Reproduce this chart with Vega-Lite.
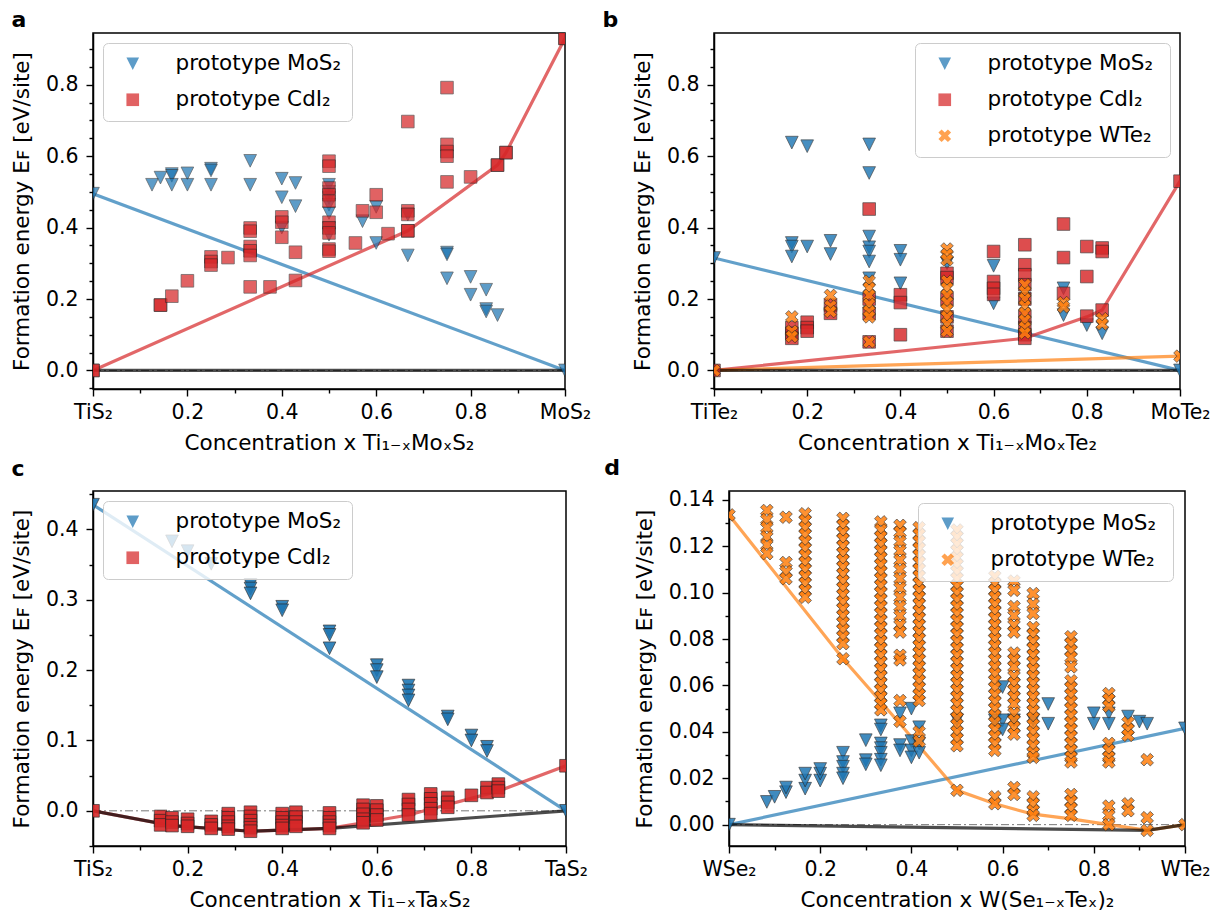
{
"$schema": "https://vega.github.io/schema/vega-lite/v6.json",
"padding": {"left": 10, "top": 8, "right": 5, "bottom": 5},
"background": "white",
"config": {
  "font": "DejaVu Sans",
  "view": {"stroke": "#000", "strokeWidth": 1.5},
  "axis": {"labelFontSize": 20.5, "titleFontSize": 21.5, "titleFontWeight": "normal", "labelColor": "#000", "titleColor": "#000", "tickColor": "#000", "domainColor": "#000", "tickWidth": 1.4, "domainWidth": 1.5, "tickSize": 7, "grid": false, "labelFlush": false, "labelOverlap": false},
  "legend": {"offset": 10, "padding": 10, "rowPadding": 13, "labelFontSize": 21.5, "labelLimit": 400, "labelColor": "#000", "symbolSize": 160, "symbolOffset": 9, "labelOffset": 32, "cornerRadius": 5, "strokeColor": "#cccccc", "fillColor": "rgba(255,255,255,0.8)", "symbolOpacity": 0.72, "symbolStrokeColor": "#222", "symbolStrokeWidth": 0.7, "title": null},
  "title": {"fontSize": 22, "fontWeight": "bold", "anchor": "start", "frame": "bounds", "baseline": "alphabetic", "color": "#000"}
},
"datasets": {
"ln": [
{"p":"a","s":"M","x":0,"y":0.495},{"p":"a","s":"M","x":1,"y":0},
{"p":"a","s":"C","x":0,"y":0},{"p":"a","s":"C","x":0.667,"y":0.391},{"p":"a","s":"C","x":0.857,"y":0.575},{"p":"a","s":"C","x":0.875,"y":0.61},{"p":"a","s":"C","x":1,"y":0.93},
{"p":"a","s":"K","x":0,"y":0},{"p":"a","s":"K","x":1,"y":0},
{"p":"b","s":"M","x":0,"y":0.315},{"p":"b","s":"M","x":1,"y":0},
{"p":"b","s":"C","x":0,"y":0},{"p":"b","s":"C","x":0.667,"y":0.09},{"p":"b","s":"C","x":0.8,"y":0.15},{"p":"b","s":"C","x":0.833,"y":0.169},{"p":"b","s":"C","x":1,"y":0.53},
{"p":"b","s":"W","x":0,"y":0},{"p":"b","s":"W","x":1,"y":0.04},
{"p":"b","s":"K","x":0,"y":0},{"p":"b","s":"K","x":1,"y":0},
{"p":"c","s":"M","x":0,"y":0.435},{"p":"c","s":"M","x":1,"y":0},
{"p":"c","s":"C","x":0,"y":0},{"p":"c","s":"C","x":0.167,"y":-0.021},{"p":"c","s":"C","x":0.333,"y":-0.029},{"p":"c","s":"C","x":0.5,"y":-0.025},{"p":"c","s":"C","x":0.571,"y":-0.017},{"p":"c","s":"C","x":0.667,"y":-0.006},{"p":"c","s":"C","x":0.857,"y":0.028},{"p":"c","s":"C","x":1,"y":0.064},
{"p":"c","s":"K","x":0,"y":0},{"p":"c","s":"K","x":0.167,"y":-0.021},{"p":"c","s":"K","x":0.333,"y":-0.029},{"p":"c","s":"K","x":0.5,"y":-0.025},{"p":"c","s":"K","x":1,"y":0},
{"p":"d","s":"M","x":0,"y":0},{"p":"d","s":"M","x":1,"y":0.0415},
{"p":"d","s":"W","x":0,"y":0.1335},{"p":"d","s":"W","x":0.25,"y":0.0715},{"p":"d","s":"W","x":0.375,"y":0.0435},{"p":"d","s":"W","x":0.5,"y":0.0148},{"p":"d","s":"W","x":0.583,"y":0.009},{"p":"d","s":"W","x":0.667,"y":0.0045},{"p":"d","s":"W","x":0.75,"y":0.0025},{"p":"d","s":"W","x":0.833,"y":0},{"p":"d","s":"W","x":0.917,"y":-0.0025},{"p":"d","s":"W","x":1,"y":0},
{"p":"d","s":"K","x":0,"y":0},{"p":"d","s":"K","x":0.917,"y":-0.0025},{"p":"d","s":"K","x":1,"y":0}
],
"pt": [
{"p":"a","t":"M","x":0,"y":0.495},{"p":"a","t":"M","x":0.125,"y":0.52},{"p":"a","t":"M","x":0.143,"y":0.54},{"p":"a","t":"M","x":0.167,"y":0.55},{"p":"a","t":"M","x":0.167,"y":0.545},{"p":"a","t":"M","x":0.167,"y":0.52},{"p":"a","t":"M","x":0.2,"y":0.552},{"p":"a","t":"M","x":0.2,"y":0.52},{"p":"a","t":"M","x":0.25,"y":0.565},{"p":"a","t":"M","x":0.25,"y":0.56},{"p":"a","t":"M","x":0.25,"y":0.52},{"p":"a","t":"M","x":0.333,"y":0.587},{"p":"a","t":"M","x":0.333,"y":0.52},{"p":"a","t":"M","x":0.4,"y":0.537},{"p":"a","t":"M","x":0.4,"y":0.485},{"p":"a","t":"M","x":0.4,"y":0.4},{"p":"a","t":"M","x":0.429,"y":0.525},{"p":"a","t":"M","x":0.429,"y":0.46},{"p":"a","t":"M","x":0.5,"y":0.52},{"p":"a","t":"M","x":0.5,"y":0.5},{"p":"a","t":"M","x":0.5,"y":0.483},{"p":"a","t":"M","x":0.5,"y":0.464},{"p":"a","t":"M","x":0.5,"y":0.441},{"p":"a","t":"M","x":0.5,"y":0.399},{"p":"a","t":"M","x":0.5,"y":0.38},{"p":"a","t":"M","x":0.571,"y":0.418},{"p":"a","t":"M","x":0.6,"y":0.458},{"p":"a","t":"M","x":0.6,"y":0.357},{"p":"a","t":"M","x":0.667,"y":0.437},{"p":"a","t":"M","x":0.667,"y":0.322},{"p":"a","t":"M","x":0.75,"y":0.33},{"p":"a","t":"M","x":0.75,"y":0.325},{"p":"a","t":"M","x":0.75,"y":0.258},{"p":"a","t":"M","x":0.8,"y":0.262},{"p":"a","t":"M","x":0.8,"y":0.212},{"p":"a","t":"M","x":0.833,"y":0.226},{"p":"a","t":"M","x":0.833,"y":0.172},{"p":"a","t":"M","x":0.833,"y":0.165},{"p":"a","t":"M","x":0.857,"y":0.155},{"p":"a","t":"M","x":1,"y":0},
{"p":"a","t":"C","x":0,"y":0},{"p":"a","t":"C","x":0,"y":0},{"p":"a","t":"C","x":0.143,"y":0.183},{"p":"a","t":"C","x":0.143,"y":0.183},{"p":"a","t":"C","x":0.167,"y":0.208},{"p":"a","t":"C","x":0.2,"y":0.251},{"p":"a","t":"C","x":0.25,"y":0.318},{"p":"a","t":"C","x":0.25,"y":0.305},{"p":"a","t":"C","x":0.25,"y":0.295},{"p":"a","t":"C","x":0.286,"y":0.316},{"p":"a","t":"C","x":0.333,"y":0.399},{"p":"a","t":"C","x":0.333,"y":0.39},{"p":"a","t":"C","x":0.333,"y":0.347},{"p":"a","t":"C","x":0.333,"y":0.335},{"p":"a","t":"C","x":0.333,"y":0.322},{"p":"a","t":"C","x":0.333,"y":0.234},{"p":"a","t":"C","x":0.375,"y":0.234},{"p":"a","t":"C","x":0.4,"y":0.43},{"p":"a","t":"C","x":0.4,"y":0.415},{"p":"a","t":"C","x":0.4,"y":0.373},{"p":"a","t":"C","x":0.429,"y":0.331},{"p":"a","t":"C","x":0.429,"y":0.252},{"p":"a","t":"C","x":0.5,"y":0.586},{"p":"a","t":"C","x":0.5,"y":0.572},{"p":"a","t":"C","x":0.5,"y":0.511},{"p":"a","t":"C","x":0.5,"y":0.492},{"p":"a","t":"C","x":0.5,"y":0.474},{"p":"a","t":"C","x":0.5,"y":0.415},{"p":"a","t":"C","x":0.5,"y":0.399},{"p":"a","t":"C","x":0.5,"y":0.385},{"p":"a","t":"C","x":0.5,"y":0.34},{"p":"a","t":"C","x":0.5,"y":0.334},{"p":"a","t":"C","x":0.556,"y":0.357},{"p":"a","t":"C","x":0.571,"y":0.447},{"p":"a","t":"C","x":0.6,"y":0.492},{"p":"a","t":"C","x":0.6,"y":0.443},{"p":"a","t":"C","x":0.625,"y":0.383},{"p":"a","t":"C","x":0.667,"y":0.697},{"p":"a","t":"C","x":0.667,"y":0.447},{"p":"a","t":"C","x":0.667,"y":0.437},{"p":"a","t":"C","x":0.667,"y":0.391},{"p":"a","t":"C","x":0.667,"y":0.391},{"p":"a","t":"C","x":0.75,"y":0.792},{"p":"a","t":"C","x":0.75,"y":0.633},{"p":"a","t":"C","x":0.75,"y":0.613},{"p":"a","t":"C","x":0.75,"y":0.6},{"p":"a","t":"C","x":0.75,"y":0.528},{"p":"a","t":"C","x":0.8,"y":0.542},{"p":"a","t":"C","x":0.857,"y":0.575},{"p":"a","t":"C","x":0.857,"y":0.575},{"p":"a","t":"C","x":0.875,"y":0.61},{"p":"a","t":"C","x":0.875,"y":0.61},{"p":"a","t":"C","x":1,"y":0.93},{"p":"a","t":"C","x":1,"y":0.93},
{"p":"b","t":"M","x":0,"y":0.315},{"p":"b","t":"M","x":0.167,"y":0.638},{"p":"b","t":"M","x":0.2,"y":0.628},{"p":"b","t":"M","x":0.167,"y":0.357},{"p":"b","t":"M","x":0.167,"y":0.347},{"p":"b","t":"M","x":0.167,"y":0.319},{"p":"b","t":"M","x":0.2,"y":0.347},{"p":"b","t":"M","x":0.25,"y":0.363},{"p":"b","t":"M","x":0.25,"y":0.326},{"p":"b","t":"M","x":0.333,"y":0.633},{"p":"b","t":"M","x":0.333,"y":0.553},{"p":"b","t":"M","x":0.333,"y":0.375},{"p":"b","t":"M","x":0.333,"y":0.345},{"p":"b","t":"M","x":0.333,"y":0.333},{"p":"b","t":"M","x":0.333,"y":0.305},{"p":"b","t":"M","x":0.333,"y":0.258},{"p":"b","t":"M","x":0.4,"y":0.335},{"p":"b","t":"M","x":0.4,"y":0.31},{"p":"b","t":"M","x":0.4,"y":0.244},{"p":"b","t":"M","x":0.5,"y":0.3},{"p":"b","t":"M","x":0.6,"y":0.293},{"p":"b","t":"M","x":0.6,"y":0.188},{"p":"b","t":"M","x":0.667,"y":0.2},{"p":"b","t":"M","x":0.75,"y":0.23},{"p":"b","t":"M","x":0.75,"y":0.155},{"p":"b","t":"M","x":0.8,"y":0.127},{"p":"b","t":"M","x":0.833,"y":0.104},{"p":"b","t":"M","x":1,"y":0},
{"p":"b","t":"C","x":0,"y":0},{"p":"b","t":"C","x":0.167,"y":0.12},{"p":"b","t":"C","x":0.167,"y":0.104},{"p":"b","t":"C","x":0.167,"y":0.09},{"p":"b","t":"C","x":0.2,"y":0.135},{"p":"b","t":"C","x":0.2,"y":0.12},{"p":"b","t":"C","x":0.2,"y":0.11},{"p":"b","t":"C","x":0.25,"y":0.183},{"p":"b","t":"C","x":0.25,"y":0.16},{"p":"b","t":"C","x":0.333,"y":0.452},{"p":"b","t":"C","x":0.333,"y":0.2},{"p":"b","t":"C","x":0.333,"y":0.16},{"p":"b","t":"C","x":0.333,"y":0.08},{"p":"b","t":"C","x":0.4,"y":0.212},{"p":"b","t":"C","x":0.4,"y":0.19},{"p":"b","t":"C","x":0.4,"y":0.1},{"p":"b","t":"C","x":0.5,"y":0.272},{"p":"b","t":"C","x":0.5,"y":0.26},{"p":"b","t":"C","x":0.5,"y":0.2},{"p":"b","t":"C","x":0.5,"y":0.15},{"p":"b","t":"C","x":0.5,"y":0.11},{"p":"b","t":"C","x":0.6,"y":0.333},{"p":"b","t":"C","x":0.6,"y":0.249},{"p":"b","t":"C","x":0.6,"y":0.23},{"p":"b","t":"C","x":0.6,"y":0.213},{"p":"b","t":"C","x":0.667,"y":0.352},{"p":"b","t":"C","x":0.667,"y":0.296},{"p":"b","t":"C","x":0.667,"y":0.268},{"p":"b","t":"C","x":0.667,"y":0.24},{"p":"b","t":"C","x":0.667,"y":0.2},{"p":"b","t":"C","x":0.667,"y":0.15},{"p":"b","t":"C","x":0.667,"y":0.12},{"p":"b","t":"C","x":0.667,"y":0.1},{"p":"b","t":"C","x":0.667,"y":0.09},{"p":"b","t":"C","x":0.75,"y":0.41},{"p":"b","t":"C","x":0.75,"y":0.316},{"p":"b","t":"C","x":0.75,"y":0.216},{"p":"b","t":"C","x":0.8,"y":0.347},{"p":"b","t":"C","x":0.8,"y":0.263},{"p":"b","t":"C","x":0.8,"y":0.152},{"p":"b","t":"C","x":0.833,"y":0.343},{"p":"b","t":"C","x":0.833,"y":0.333},{"p":"b","t":"C","x":0.833,"y":0.169},{"p":"b","t":"C","x":1,"y":0.53},
{"p":"b","t":"W","x":0,"y":0},{"p":"b","t":"W","x":0.167,"y":0.15},{"p":"b","t":"W","x":0.167,"y":0.11},{"p":"b","t":"W","x":0.167,"y":0.095},{"p":"b","t":"W","x":0.25,"y":0.21},{"p":"b","t":"W","x":0.25,"y":0.18},{"p":"b","t":"W","x":0.25,"y":0.165},{"p":"b","t":"W","x":0.333,"y":0.25},{"p":"b","t":"W","x":0.333,"y":0.23},{"p":"b","t":"W","x":0.333,"y":0.21},{"p":"b","t":"W","x":0.333,"y":0.185},{"p":"b","t":"W","x":0.333,"y":0.165},{"p":"b","t":"W","x":0.333,"y":0.15},{"p":"b","t":"W","x":0.333,"y":0.08},{"p":"b","t":"W","x":0.5,"y":0.34},{"p":"b","t":"W","x":0.5,"y":0.325},{"p":"b","t":"W","x":0.5,"y":0.31},{"p":"b","t":"W","x":0.5,"y":0.25},{"p":"b","t":"W","x":0.5,"y":0.23},{"p":"b","t":"W","x":0.5,"y":0.21},{"p":"b","t":"W","x":0.5,"y":0.19},{"p":"b","t":"W","x":0.5,"y":0.17},{"p":"b","t":"W","x":0.5,"y":0.15},{"p":"b","t":"W","x":0.5,"y":0.13},{"p":"b","t":"W","x":0.5,"y":0.11},{"p":"b","t":"W","x":0.667,"y":0.24},{"p":"b","t":"W","x":0.667,"y":0.22},{"p":"b","t":"W","x":0.667,"y":0.2},{"p":"b","t":"W","x":0.667,"y":0.18},{"p":"b","t":"W","x":0.667,"y":0.16},{"p":"b","t":"W","x":0.667,"y":0.14},{"p":"b","t":"W","x":0.667,"y":0.12},{"p":"b","t":"W","x":0.667,"y":0.105},{"p":"b","t":"W","x":0.75,"y":0.19},{"p":"b","t":"W","x":0.75,"y":0.178},{"p":"b","t":"W","x":0.833,"y":0.145},{"p":"b","t":"W","x":0.833,"y":0.13},{"p":"b","t":"W","x":1,"y":0.04},
{"p":"c","t":"M","x":0,"y":0.435},{"p":"c","t":"M","x":0.167,"y":0.383},{"p":"c","t":"M","x":0.2,"y":0.369},{"p":"c","t":"M","x":0.25,"y":0.351},{"p":"c","t":"M","x":0.333,"y":0.321},{"p":"c","t":"M","x":0.333,"y":0.316},{"p":"c","t":"M","x":0.333,"y":0.309},{"p":"c","t":"M","x":0.4,"y":0.29},{"p":"c","t":"M","x":0.4,"y":0.285},{"p":"c","t":"M","x":0.5,"y":0.255},{"p":"c","t":"M","x":0.5,"y":0.25},{"p":"c","t":"M","x":0.5,"y":0.231},{"p":"c","t":"M","x":0.6,"y":0.207},{"p":"c","t":"M","x":0.6,"y":0.2},{"p":"c","t":"M","x":0.6,"y":0.19},{"p":"c","t":"M","x":0.667,"y":0.178},{"p":"c","t":"M","x":0.667,"y":0.171},{"p":"c","t":"M","x":0.667,"y":0.164},{"p":"c","t":"M","x":0.667,"y":0.157},{"p":"c","t":"M","x":0.75,"y":0.134},{"p":"c","t":"M","x":0.75,"y":0.13},{"p":"c","t":"M","x":0.8,"y":0.107},{"p":"c","t":"M","x":0.8,"y":0.1},{"p":"c","t":"M","x":0.833,"y":0.091},{"p":"c","t":"M","x":0.833,"y":0.085},{"p":"c","t":"M","x":1,"y":0},
{"p":"c","t":"C","x":0,"y":0},{"p":"c","t":"C","x":0.143,"y":-0.008},{"p":"c","t":"C","x":0.143,"y":-0.014},{"p":"c","t":"C","x":0.143,"y":-0.02},{"p":"c","t":"C","x":0.167,"y":-0.01},{"p":"c","t":"C","x":0.167,"y":-0.016},{"p":"c","t":"C","x":0.167,"y":-0.021},{"p":"c","t":"C","x":0.2,"y":-0.012},{"p":"c","t":"C","x":0.2,"y":-0.018},{"p":"c","t":"C","x":0.2,"y":-0.022},{"p":"c","t":"C","x":0.25,"y":-0.015},{"p":"c","t":"C","x":0.25,"y":-0.02},{"p":"c","t":"C","x":0.25,"y":-0.025},{"p":"c","t":"C","x":0.286,"y":-0.004},{"p":"c","t":"C","x":0.286,"y":-0.01},{"p":"c","t":"C","x":0.286,"y":-0.016},{"p":"c","t":"C","x":0.286,"y":-0.022},{"p":"c","t":"C","x":0.286,"y":-0.026},{"p":"c","t":"C","x":0.333,"y":-0.002},{"p":"c","t":"C","x":0.333,"y":-0.008},{"p":"c","t":"C","x":0.333,"y":-0.014},{"p":"c","t":"C","x":0.333,"y":-0.02},{"p":"c","t":"C","x":0.333,"y":-0.024},{"p":"c","t":"C","x":0.333,"y":-0.029},{"p":"c","t":"C","x":0.4,"y":-0.004},{"p":"c","t":"C","x":0.4,"y":-0.01},{"p":"c","t":"C","x":0.4,"y":-0.016},{"p":"c","t":"C","x":0.4,"y":-0.021},{"p":"c","t":"C","x":0.4,"y":-0.025},{"p":"c","t":"C","x":0.429,"y":-0.002},{"p":"c","t":"C","x":0.429,"y":-0.009},{"p":"c","t":"C","x":0.429,"y":-0.016},{"p":"c","t":"C","x":0.429,"y":-0.022},{"p":"c","t":"C","x":0.5,"y":-0.003},{"p":"c","t":"C","x":0.5,"y":-0.01},{"p":"c","t":"C","x":0.5,"y":-0.016},{"p":"c","t":"C","x":0.5,"y":-0.021},{"p":"c","t":"C","x":0.5,"y":-0.025},{"p":"c","t":"C","x":0.571,"y":0.008},{"p":"c","t":"C","x":0.571,"y":0.002},{"p":"c","t":"C","x":0.571,"y":-0.005},{"p":"c","t":"C","x":0.571,"y":-0.012},{"p":"c","t":"C","x":0.571,"y":-0.017},{"p":"c","t":"C","x":0.6,"y":0.007},{"p":"c","t":"C","x":0.6,"y":0.001},{"p":"c","t":"C","x":0.6,"y":-0.006},{"p":"c","t":"C","x":0.6,"y":-0.013},{"p":"c","t":"C","x":0.667,"y":0.016},{"p":"c","t":"C","x":0.667,"y":0.009},{"p":"c","t":"C","x":0.667,"y":0.002},{"p":"c","t":"C","x":0.667,"y":-0.006},{"p":"c","t":"C","x":0.714,"y":0.024},{"p":"c","t":"C","x":0.714,"y":0.017},{"p":"c","t":"C","x":0.714,"y":0.01},{"p":"c","t":"C","x":0.714,"y":0.003},{"p":"c","t":"C","x":0.714,"y":-0.004},{"p":"c","t":"C","x":0.75,"y":0.019},{"p":"c","t":"C","x":0.75,"y":0.012},{"p":"c","t":"C","x":0.75,"y":0.005},{"p":"c","t":"C","x":0.8,"y":0.022},{"p":"c","t":"C","x":0.833,"y":0.033},{"p":"c","t":"C","x":0.833,"y":0.026},{"p":"c","t":"C","x":0.857,"y":0.038},{"p":"c","t":"C","x":0.857,"y":0.033},{"p":"c","t":"C","x":0.857,"y":0.028},{"p":"c","t":"C","x":1,"y":0.064},
{"p":"d","t":"M","x":0,"y":0},{"p":"d","t":"M","x":0.083,"y":0.0098},{"p":"d","t":"M","x":0.1,"y":0.012},{"p":"d","t":"M","x":0.125,"y":0.014},{"p":"d","t":"M","x":0.125,"y":0.016},{"p":"d","t":"M","x":0.167,"y":0.0155},{"p":"d","t":"M","x":0.167,"y":0.019},{"p":"d","t":"M","x":0.167,"y":0.022},{"p":"d","t":"M","x":0.2,"y":0.019},{"p":"d","t":"M","x":0.2,"y":0.022},{"p":"d","t":"M","x":0.2,"y":0.024},{"p":"d","t":"M","x":0.25,"y":0.031},{"p":"d","t":"M","x":0.25,"y":0.027},{"p":"d","t":"M","x":0.25,"y":0.025},{"p":"d","t":"M","x":0.25,"y":0.022},{"p":"d","t":"M","x":0.25,"y":0.02},{"p":"d","t":"M","x":0.3,"y":0.0364},{"p":"d","t":"M","x":0.3,"y":0.0278},{"p":"d","t":"M","x":0.3,"y":0.026},{"p":"d","t":"M","x":0.333,"y":0.0428},{"p":"d","t":"M","x":0.333,"y":0.041},{"p":"d","t":"M","x":0.333,"y":0.035},{"p":"d","t":"M","x":0.333,"y":0.033},{"p":"d","t":"M","x":0.333,"y":0.031},{"p":"d","t":"M","x":0.333,"y":0.028},{"p":"d","t":"M","x":0.333,"y":0.0256},{"p":"d","t":"M","x":0.375,"y":0.048},{"p":"d","t":"M","x":0.375,"y":0.0343},{"p":"d","t":"M","x":0.375,"y":0.032},{"p":"d","t":"M","x":0.4,"y":0.05},{"p":"d","t":"M","x":0.4,"y":0.036},{"p":"d","t":"M","x":0.4,"y":0.032},{"p":"d","t":"M","x":0.4,"y":0.029},{"p":"d","t":"M","x":0.417,"y":0.042},{"p":"d","t":"M","x":0.417,"y":0.035},{"p":"d","t":"M","x":0.417,"y":0.031},{"p":"d","t":"M","x":0.5,"y":0.045},{"p":"d","t":"M","x":0.583,"y":0.045},{"p":"d","t":"M","x":0.6,"y":0.0593},{"p":"d","t":"M","x":0.6,"y":0.045},{"p":"d","t":"M","x":0.6,"y":0.041},{"p":"d","t":"M","x":0.625,"y":0.045},{"p":"d","t":"M","x":0.667,"y":0.045},{"p":"d","t":"M","x":0.7,"y":0.052},{"p":"d","t":"M","x":0.7,"y":0.0435},{"p":"d","t":"M","x":0.8,"y":0.048},{"p":"d","t":"M","x":0.8,"y":0.0435},{"p":"d","t":"M","x":0.833,"y":0.048},{"p":"d","t":"M","x":0.833,"y":0.0435},{"p":"d","t":"M","x":0.875,"y":0.0466},{"p":"d","t":"M","x":0.9,"y":0.0444},{"p":"d","t":"M","x":0.917,"y":0.0435},{"p":"d","t":"M","x":1,"y":0.0415},
{"p":"d","t":"W","x":0,"y":0.1335},
{"p":"d","t":"W","x":0.083,"y":0.1354},{"p":"d","t":"W","x":0.083,"y":0.1315},{"p":"d","t":"W","x":0.083,"y":0.128},{"p":"d","t":"W","x":0.083,"y":0.124},{"p":"d","t":"W","x":0.083,"y":0.1205},{"p":"d","t":"W","x":0.083,"y":0.1168},
{"p":"d","t":"W","x":0.125,"y":0.1325},{"p":"d","t":"W","x":0.125,"y":0.113},{"p":"d","t":"W","x":0.125,"y":0.109},{"p":"d","t":"W","x":0.125,"y":0.106},
{"p":"d","t":"W","x":0.167,"y":0.134},{"p":"d","t":"W","x":0.167,"y":0.131},{"p":"d","t":"W","x":0.167,"y":0.128},{"p":"d","t":"W","x":0.167,"y":0.125},{"p":"d","t":"W","x":0.167,"y":0.122},{"p":"d","t":"W","x":0.167,"y":0.119},{"p":"d","t":"W","x":0.167,"y":0.116},{"p":"d","t":"W","x":0.167,"y":0.113},{"p":"d","t":"W","x":0.167,"y":0.11},{"p":"d","t":"W","x":0.167,"y":0.107},{"p":"d","t":"W","x":0.167,"y":0.104},{"p":"d","t":"W","x":0.167,"y":0.101},{"p":"d","t":"W","x":0.167,"y":0.098},
{"p":"d","t":"W","x":0.25,"y":0.132},{"p":"d","t":"W","x":0.25,"y":0.129},{"p":"d","t":"W","x":0.25,"y":0.126},{"p":"d","t":"W","x":0.25,"y":0.123},{"p":"d","t":"W","x":0.25,"y":0.12},{"p":"d","t":"W","x":0.25,"y":0.117},{"p":"d","t":"W","x":0.25,"y":0.114},{"p":"d","t":"W","x":0.25,"y":0.111},{"p":"d","t":"W","x":0.25,"y":0.108},{"p":"d","t":"W","x":0.25,"y":0.105},{"p":"d","t":"W","x":0.25,"y":0.102},{"p":"d","t":"W","x":0.25,"y":0.099},{"p":"d","t":"W","x":0.25,"y":0.096},{"p":"d","t":"W","x":0.25,"y":0.093},{"p":"d","t":"W","x":0.25,"y":0.09},{"p":"d","t":"W","x":0.25,"y":0.087},{"p":"d","t":"W","x":0.25,"y":0.084},{"p":"d","t":"W","x":0.25,"y":0.081},{"p":"d","t":"W","x":0.25,"y":0.078},{"p":"d","t":"W","x":0.25,"y":0.0715},
{"p":"d","t":"W","x":0.333,"y":0.1305},{"p":"d","t":"W","x":0.333,"y":0.127},{"p":"d","t":"W","x":0.333,"y":0.124},{"p":"d","t":"W","x":0.333,"y":0.121},{"p":"d","t":"W","x":0.333,"y":0.118},{"p":"d","t":"W","x":0.333,"y":0.115},{"p":"d","t":"W","x":0.333,"y":0.112},{"p":"d","t":"W","x":0.333,"y":0.109},{"p":"d","t":"W","x":0.333,"y":0.106},{"p":"d","t":"W","x":0.333,"y":0.103},{"p":"d","t":"W","x":0.333,"y":0.1},{"p":"d","t":"W","x":0.333,"y":0.097},{"p":"d","t":"W","x":0.333,"y":0.094},{"p":"d","t":"W","x":0.333,"y":0.091},{"p":"d","t":"W","x":0.333,"y":0.088},{"p":"d","t":"W","x":0.333,"y":0.085},{"p":"d","t":"W","x":0.333,"y":0.082},{"p":"d","t":"W","x":0.333,"y":0.079},{"p":"d","t":"W","x":0.333,"y":0.076},{"p":"d","t":"W","x":0.333,"y":0.073},{"p":"d","t":"W","x":0.333,"y":0.07},{"p":"d","t":"W","x":0.333,"y":0.067},{"p":"d","t":"W","x":0.333,"y":0.064},{"p":"d","t":"W","x":0.333,"y":0.061},{"p":"d","t":"W","x":0.333,"y":0.058},{"p":"d","t":"W","x":0.333,"y":0.055},{"p":"d","t":"W","x":0.333,"y":0.052},{"p":"d","t":"W","x":0.333,"y":0.0495},
{"p":"d","t":"W","x":0.375,"y":0.129},{"p":"d","t":"W","x":0.375,"y":0.126},{"p":"d","t":"W","x":0.375,"y":0.122},{"p":"d","t":"W","x":0.375,"y":0.118},{"p":"d","t":"W","x":0.375,"y":0.114},{"p":"d","t":"W","x":0.375,"y":0.11},{"p":"d","t":"W","x":0.375,"y":0.106},{"p":"d","t":"W","x":0.375,"y":0.102},{"p":"d","t":"W","x":0.375,"y":0.098},{"p":"d","t":"W","x":0.375,"y":0.094},{"p":"d","t":"W","x":0.375,"y":0.09},{"p":"d","t":"W","x":0.375,"y":0.086},{"p":"d","t":"W","x":0.375,"y":0.083},{"p":"d","t":"W","x":0.375,"y":0.073},{"p":"d","t":"W","x":0.375,"y":0.071},{"p":"d","t":"W","x":0.375,"y":0.0535},{"p":"d","t":"W","x":0.375,"y":0.0445},
{"p":"d","t":"W","x":0.417,"y":0.128},{"p":"d","t":"W","x":0.417,"y":0.125},{"p":"d","t":"W","x":0.417,"y":0.122},{"p":"d","t":"W","x":0.417,"y":0.119},{"p":"d","t":"W","x":0.417,"y":0.116},{"p":"d","t":"W","x":0.417,"y":0.113},{"p":"d","t":"W","x":0.417,"y":0.11},{"p":"d","t":"W","x":0.417,"y":0.107},{"p":"d","t":"W","x":0.417,"y":0.104},{"p":"d","t":"W","x":0.417,"y":0.101},{"p":"d","t":"W","x":0.417,"y":0.098},{"p":"d","t":"W","x":0.417,"y":0.095},{"p":"d","t":"W","x":0.417,"y":0.092},{"p":"d","t":"W","x":0.417,"y":0.089},{"p":"d","t":"W","x":0.417,"y":0.086},{"p":"d","t":"W","x":0.417,"y":0.083},{"p":"d","t":"W","x":0.417,"y":0.08},{"p":"d","t":"W","x":0.417,"y":0.077},{"p":"d","t":"W","x":0.417,"y":0.074},{"p":"d","t":"W","x":0.417,"y":0.071},{"p":"d","t":"W","x":0.417,"y":0.068},{"p":"d","t":"W","x":0.417,"y":0.065},{"p":"d","t":"W","x":0.417,"y":0.062},{"p":"d","t":"W","x":0.417,"y":0.059},{"p":"d","t":"W","x":0.417,"y":0.056},{"p":"d","t":"W","x":0.417,"y":0.0535},{"p":"d","t":"W","x":0.417,"y":0.04},{"p":"d","t":"W","x":0.417,"y":0.036},
{"p":"d","t":"W","x":0.5,"y":0.127},{"p":"d","t":"W","x":0.5,"y":0.124},{"p":"d","t":"W","x":0.5,"y":0.121},{"p":"d","t":"W","x":0.5,"y":0.118},{"p":"d","t":"W","x":0.5,"y":0.115},{"p":"d","t":"W","x":0.5,"y":0.112},{"p":"d","t":"W","x":0.5,"y":0.109},{"p":"d","t":"W","x":0.5,"y":0.106},{"p":"d","t":"W","x":0.5,"y":0.103},{"p":"d","t":"W","x":0.5,"y":0.1},{"p":"d","t":"W","x":0.5,"y":0.097},{"p":"d","t":"W","x":0.5,"y":0.094},{"p":"d","t":"W","x":0.5,"y":0.091},{"p":"d","t":"W","x":0.5,"y":0.088},{"p":"d","t":"W","x":0.5,"y":0.085},{"p":"d","t":"W","x":0.5,"y":0.082},{"p":"d","t":"W","x":0.5,"y":0.079},{"p":"d","t":"W","x":0.5,"y":0.076},{"p":"d","t":"W","x":0.5,"y":0.073},{"p":"d","t":"W","x":0.5,"y":0.07},{"p":"d","t":"W","x":0.5,"y":0.067},{"p":"d","t":"W","x":0.5,"y":0.064},{"p":"d","t":"W","x":0.5,"y":0.061},{"p":"d","t":"W","x":0.5,"y":0.058},{"p":"d","t":"W","x":0.5,"y":0.055},{"p":"d","t":"W","x":0.5,"y":0.052},{"p":"d","t":"W","x":0.5,"y":0.049},{"p":"d","t":"W","x":0.5,"y":0.046},{"p":"d","t":"W","x":0.5,"y":0.043},{"p":"d","t":"W","x":0.5,"y":0.04},{"p":"d","t":"W","x":0.5,"y":0.037},{"p":"d","t":"W","x":0.5,"y":0.034},{"p":"d","t":"W","x":0.5,"y":0.0148},
{"p":"d","t":"W","x":0.583,"y":0.107},{"p":"d","t":"W","x":0.583,"y":0.104},{"p":"d","t":"W","x":0.583,"y":0.101},{"p":"d","t":"W","x":0.583,"y":0.098},{"p":"d","t":"W","x":0.583,"y":0.095},{"p":"d","t":"W","x":0.583,"y":0.092},{"p":"d","t":"W","x":0.583,"y":0.089},{"p":"d","t":"W","x":0.583,"y":0.086},{"p":"d","t":"W","x":0.583,"y":0.083},{"p":"d","t":"W","x":0.583,"y":0.08},{"p":"d","t":"W","x":0.583,"y":0.077},{"p":"d","t":"W","x":0.583,"y":0.074},{"p":"d","t":"W","x":0.583,"y":0.071},{"p":"d","t":"W","x":0.583,"y":0.068},{"p":"d","t":"W","x":0.583,"y":0.065},{"p":"d","t":"W","x":0.583,"y":0.062},{"p":"d","t":"W","x":0.583,"y":0.059},{"p":"d","t":"W","x":0.583,"y":0.056},{"p":"d","t":"W","x":0.583,"y":0.053},{"p":"d","t":"W","x":0.583,"y":0.05},{"p":"d","t":"W","x":0.583,"y":0.047},{"p":"d","t":"W","x":0.583,"y":0.044},{"p":"d","t":"W","x":0.583,"y":0.041},{"p":"d","t":"W","x":0.583,"y":0.038},{"p":"d","t":"W","x":0.583,"y":0.035},{"p":"d","t":"W","x":0.583,"y":0.032},{"p":"d","t":"W","x":0.583,"y":0.012},{"p":"d","t":"W","x":0.583,"y":0.009},
{"p":"d","t":"W","x":0.625,"y":0.105},{"p":"d","t":"W","x":0.625,"y":0.101},{"p":"d","t":"W","x":0.625,"y":0.094},{"p":"d","t":"W","x":0.625,"y":0.09},{"p":"d","t":"W","x":0.625,"y":0.086},{"p":"d","t":"W","x":0.625,"y":0.083},{"p":"d","t":"W","x":0.625,"y":0.074},{"p":"d","t":"W","x":0.625,"y":0.071},{"p":"d","t":"W","x":0.625,"y":0.068},{"p":"d","t":"W","x":0.625,"y":0.064},{"p":"d","t":"W","x":0.625,"y":0.061},{"p":"d","t":"W","x":0.625,"y":0.058},{"p":"d","t":"W","x":0.625,"y":0.055},{"p":"d","t":"W","x":0.625,"y":0.052},{"p":"d","t":"W","x":0.625,"y":0.048},{"p":"d","t":"W","x":0.625,"y":0.045},{"p":"d","t":"W","x":0.625,"y":0.042},{"p":"d","t":"W","x":0.625,"y":0.039},{"p":"d","t":"W","x":0.625,"y":0.016},{"p":"d","t":"W","x":0.625,"y":0.013},
{"p":"d","t":"W","x":0.667,"y":0.0996},{"p":"d","t":"W","x":0.667,"y":0.095},{"p":"d","t":"W","x":0.667,"y":0.091},{"p":"d","t":"W","x":0.667,"y":0.085},{"p":"d","t":"W","x":0.667,"y":0.082},{"p":"d","t":"W","x":0.667,"y":0.079},{"p":"d","t":"W","x":0.667,"y":0.076},{"p":"d","t":"W","x":0.667,"y":0.073},{"p":"d","t":"W","x":0.667,"y":0.07},{"p":"d","t":"W","x":0.667,"y":0.067},{"p":"d","t":"W","x":0.667,"y":0.064},{"p":"d","t":"W","x":0.667,"y":0.061},{"p":"d","t":"W","x":0.667,"y":0.058},{"p":"d","t":"W","x":0.667,"y":0.055},{"p":"d","t":"W","x":0.667,"y":0.052},{"p":"d","t":"W","x":0.667,"y":0.049},{"p":"d","t":"W","x":0.667,"y":0.046},{"p":"d","t":"W","x":0.667,"y":0.043},{"p":"d","t":"W","x":0.667,"y":0.04},{"p":"d","t":"W","x":0.667,"y":0.037},{"p":"d","t":"W","x":0.667,"y":0.034},{"p":"d","t":"W","x":0.667,"y":0.031},{"p":"d","t":"W","x":0.667,"y":0.029},{"p":"d","t":"W","x":0.667,"y":0.012},{"p":"d","t":"W","x":0.667,"y":0.009},{"p":"d","t":"W","x":0.667,"y":0.006},{"p":"d","t":"W","x":0.667,"y":0.004},
{"p":"d","t":"W","x":0.75,"y":0.081},{"p":"d","t":"W","x":0.75,"y":0.078},{"p":"d","t":"W","x":0.75,"y":0.075},{"p":"d","t":"W","x":0.75,"y":0.072},{"p":"d","t":"W","x":0.75,"y":0.068},{"p":"d","t":"W","x":0.75,"y":0.062},{"p":"d","t":"W","x":0.75,"y":0.059},{"p":"d","t":"W","x":0.75,"y":0.056},{"p":"d","t":"W","x":0.75,"y":0.053},{"p":"d","t":"W","x":0.75,"y":0.05},{"p":"d","t":"W","x":0.75,"y":0.047},{"p":"d","t":"W","x":0.75,"y":0.044},{"p":"d","t":"W","x":0.75,"y":0.041},{"p":"d","t":"W","x":0.75,"y":0.038},{"p":"d","t":"W","x":0.75,"y":0.035},{"p":"d","t":"W","x":0.75,"y":0.032},{"p":"d","t":"W","x":0.75,"y":0.029},{"p":"d","t":"W","x":0.75,"y":0.027},{"p":"d","t":"W","x":0.75,"y":0.013},{"p":"d","t":"W","x":0.75,"y":0.01},{"p":"d","t":"W","x":0.75,"y":0.007},{"p":"d","t":"W","x":0.75,"y":0.004},
{"p":"d","t":"W","x":0.833,"y":0.0565},{"p":"d","t":"W","x":0.833,"y":0.054},{"p":"d","t":"W","x":0.833,"y":0.051},{"p":"d","t":"W","x":0.833,"y":0.035},{"p":"d","t":"W","x":0.833,"y":0.032},{"p":"d","t":"W","x":0.833,"y":0.029},{"p":"d","t":"W","x":0.833,"y":0.027},{"p":"d","t":"W","x":0.833,"y":0.008},{"p":"d","t":"W","x":0.833,"y":0.004},{"p":"d","t":"W","x":0.833,"y":0},
{"p":"d","t":"W","x":0.875,"y":0.044},{"p":"d","t":"W","x":0.875,"y":0.041},{"p":"d","t":"W","x":0.875,"y":0.0385},{"p":"d","t":"W","x":0.875,"y":0.009},{"p":"d","t":"W","x":0.875,"y":0.006},
{"p":"d","t":"W","x":0.917,"y":0.028},{"p":"d","t":"W","x":0.917,"y":0.003},{"p":"d","t":"W","x":0.917,"y":-0.0025},
{"p":"d","t":"W","x":1,"y":0}
]
},
"bounds": "full",
"spacing": 1,
"resolve": {"scale": {"x": "independent", "y": "independent", "fill": "independent", "shape": "independent", "stroke": "independent"}, "legend": {"fill": "independent", "shape": "independent"}, "axis": {"x": "independent", "y": "independent"}},
"vconcat": [
{
"bounds": "flush",
"spacing": 149,
"resolve": {"scale": {"x": "independent", "y": "independent", "fill": "independent", "shape": "independent", "stroke": "independent"}, "legend": {"fill": "independent", "shape": "independent"}, "axis": {"x": "independent", "y": "independent"}},
"hconcat": [
{
"width": 472, "height": 356,
"title": {"text": "a", "offset": 1},
"resolve": {"axis": {"x": "independent", "y": "independent"}},
"layer": [
{"data": {"values": [{}]}, "mark": {"type": "rule", "color": "#777", "strokeWidth": 1, "strokeDash": [8, 3, 2, 3]},
 "encoding": {
  "x": {"datum": 0, "type": "quantitative", "scale": {"domain": [0, 1], "nice": false, "zero": false}, "axis": {"orient": "bottom", "values": [0.1, 0.3, 0.5, 0.7, 0.9], "labels": false, "tickSize": 4, "domain": false, "title": null}},
  "x2": {"datum": 1},
  "y": {"datum": 0, "type": "quantitative", "scale": {"domain": [-0.052, 0.945], "nice": false, "zero": false}, "axis": {"orient": "left", "values": [-0.05, 0.05, 0.1, 0.15, 0.25, 0.3, 0.35, 0.45, 0.5, 0.55, 0.65, 0.7, 0.75, 0.85, 0.9], "labels": false, "tickSize": 4, "domain": false, "title": null}}
 }},
{"data": {"name": "ln"}, "transform": [{"filter": "datum.p == 'a'"}], "mark": {"type": "line", "strokeWidth": 3.2, "opacity": 0.7, "clip": true},
 "encoding": {
  "x": {"field": "x", "type": "quantitative", "scale": {"domain": [0, 1], "nice": false, "zero": false}, "axis": {"orient": "bottom", "values": [0, 0.2, 0.4, 0.6, 0.8, 1], "labelPadding": 6, "titlePadding": 10, "labelExpr": "datum.value < 0.01 ? 'TiS₂' : datum.value > 0.99 ? 'MoS₂' : format(datum.value, '.1f')", "title": "Concentration x Ti₁₋ₓMoₓS₂"}},
  "y": {"field": "y", "type": "quantitative", "scale": {"domain": [-0.052, 0.945], "nice": false, "zero": false}, "axis": {"orient": "left", "values": [0, 0.2, 0.4, 0.6, 0.8], "format": ".1f", "labelPadding": 8, "titlePadding": 12, "title": "Formation energy Eꜰ [eV/site]"}},
  "stroke": {"field": "s", "type": "nominal", "scale": {"domain": ["M", "C", "W", "K"], "range": ["#1f77b4", "#d62728", "#ff7f0e", "#000000"]}, "legend": null}
 }},
{"data": {"name": "pt"}, "transform": [{"filter": "datum.p == 'a'"}], "mark": {"type": "point", "filled": true, "size": 160, "opacity": 0.72, "stroke": "#222", "strokeWidth": 0.7, "clip": true},
 "encoding": {
  "x": {"field": "x", "type": "quantitative", "axis": null},
  "y": {"field": "y", "type": "quantitative", "axis": null},
  "fill": {"field": "t", "type": "nominal", "sort": null, "scale": {"domain": ["M", "C"], "range": ["#1f77b4", "#d62728"]}, "legend": {"orient": "top-left", "labelExpr": "datum.label == 'M' ? 'prototype MoS₂' : 'prototype CdI₂'"}},
  "shape": {"field": "t", "type": "nominal", "sort": null, "scale": {"domain": ["M", "C"], "range": ["M-1,-1L1,-1L0,1Z", "square"]}, "legend": {"orient": "top-left", "labelExpr": "datum.label == 'M' ? 'prototype MoS₂' : 'prototype CdI₂'"}}
 }}
]
},
{
"width": 466, "height": 356,
"title": {"text": "b", "offset": 1, "dx": -30},
"resolve": {"axis": {"x": "independent", "y": "independent"}},
"layer": [
{"data": {"values": [{}]}, "mark": {"type": "rule", "color": "#777", "strokeWidth": 1, "strokeDash": [8, 3, 2, 3]},
 "encoding": {
  "x": {"datum": 0, "type": "quantitative", "scale": {"domain": [0, 1], "nice": false, "zero": false}, "axis": {"orient": "bottom", "values": [0.1, 0.3, 0.5, 0.7, 0.9], "labels": false, "tickSize": 4, "domain": false, "title": null}},
  "x2": {"datum": 1},
  "y": {"datum": 0, "type": "quantitative", "scale": {"domain": [-0.052, 0.945], "nice": false, "zero": false}, "axis": {"orient": "left", "values": [-0.05, 0.05, 0.1, 0.15, 0.25, 0.3, 0.35, 0.45, 0.5, 0.55, 0.65, 0.7, 0.75, 0.85, 0.9], "labels": false, "tickSize": 4, "domain": false, "title": null}}
 }},
{"data": {"name": "ln"}, "transform": [{"filter": "datum.p == 'b'"}], "mark": {"type": "line", "strokeWidth": 3.2, "opacity": 0.7, "clip": true},
 "encoding": {
  "x": {"field": "x", "type": "quantitative", "scale": {"domain": [0, 1], "nice": false, "zero": false}, "axis": {"orient": "bottom", "values": [0, 0.2, 0.4, 0.6, 0.8, 1], "labelPadding": 6, "titlePadding": 10, "labelExpr": "datum.value < 0.01 ? 'TiTe₂' : datum.value > 0.99 ? 'MoTe₂' : format(datum.value, '.1f')", "title": "Concentration x Ti₁₋ₓMoₓTe₂"}},
  "y": {"field": "y", "type": "quantitative", "scale": {"domain": [-0.052, 0.945], "nice": false, "zero": false}, "axis": {"orient": "left", "values": [0, 0.2, 0.4, 0.6, 0.8], "format": ".1f", "labelPadding": 8, "titlePadding": 12, "title": "Formation energy Eꜰ [eV/site]"}},
  "stroke": {"field": "s", "type": "nominal", "scale": {"domain": ["M", "C", "W", "K"], "range": ["#1f77b4", "#d62728", "#ff7f0e", "#000000"]}, "legend": null}
 }},
{"data": {"name": "pt"}, "transform": [{"filter": "datum.p == 'b'"}], "mark": {"type": "point", "filled": true, "size": 160, "opacity": 0.82, "stroke": "#222", "strokeWidth": 0.7, "clip": true},
 "encoding": {
  "x": {"field": "x", "type": "quantitative", "axis": null},
  "y": {"field": "y", "type": "quantitative", "axis": null},
  "fill": {"field": "t", "type": "nominal", "sort": null, "scale": {"domain": ["M", "C", "W"], "range": ["#1f77b4", "#d62728", "#ff7f0e"]}, "legend": {"orient": "top-right", "labelExpr": "datum.label == 'M' ? 'prototype  MoS₂' : datum.label == 'C' ? 'prototype  CdI₂' : 'prototype  WTe₂'"}},
  "shape": {"field": "t", "type": "nominal", "sort": null, "scale": {"domain": ["M", "C", "W"], "range": ["M-1,-1L1,-1L0,1Z", "square", "M0,-0.5L0.5,-1L1,-0.5L0.5,0L1,0.5L0.5,1L0,0.5L-0.5,1L-1,0.5L-0.5,0L-1,-0.5L-0.5,-1Z"]}, "legend": {"orient": "top-right", "labelExpr": "datum.label == 'M' ? 'prototype  MoS₂' : datum.label == 'C' ? 'prototype  CdI₂' : 'prototype  WTe₂'"}}
 }}
]
}
]
},
{
"bounds": "flush",
"spacing": 163,
"resolve": {"scale": {"x": "independent", "y": "independent", "fill": "independent", "shape": "independent", "stroke": "independent"}, "legend": {"fill": "independent", "shape": "independent"}, "axis": {"x": "independent", "y": "independent"}},
"hconcat": [
{
"width": 473, "height": 355,
"title": {"text": "c", "offset": 10},
"resolve": {"axis": {"x": "independent", "y": "independent"}},
"layer": [
{"data": {"values": [{}]}, "mark": {"type": "rule", "color": "#777", "strokeWidth": 1, "strokeDash": [8, 3, 2, 3]},
 "encoding": {
  "x": {"datum": 0, "type": "quantitative", "scale": {"domain": [0, 1], "nice": false, "zero": false}, "axis": {"orient": "bottom", "values": [0.1, 0.3, 0.5, 0.7, 0.9], "labels": false, "tickSize": 4, "domain": false, "title": null}},
  "x2": {"datum": 1},
  "y": {"datum": 0, "type": "quantitative", "scale": {"domain": [-0.05, 0.4545], "nice": false, "zero": false}, "axis": {"orient": "left", "values": [-0.05, 0.05, 0.15, 0.25, 0.35, 0.45], "labels": false, "tickSize": 4, "domain": false, "title": null}}
 }},
{"data": {"name": "ln"}, "transform": [{"filter": "datum.p == 'c'"}], "mark": {"type": "line", "strokeWidth": 3.2, "opacity": 0.7, "clip": true},
 "encoding": {
  "x": {"field": "x", "type": "quantitative", "scale": {"domain": [0, 1], "nice": false, "zero": false}, "axis": {"orient": "bottom", "values": [0, 0.2, 0.4, 0.6, 0.8, 1], "labelPadding": 6, "titlePadding": 10, "labelExpr": "datum.value < 0.01 ? 'TiS₂' : datum.value > 0.99 ? 'TaS₂' : format(datum.value, '.1f')", "title": "Concentration x Ti₁₋ₓTaₓS₂"}},
  "y": {"field": "y", "type": "quantitative", "scale": {"domain": [-0.05, 0.4545], "nice": false, "zero": false}, "axis": {"orient": "left", "values": [0, 0.1, 0.2, 0.3, 0.4], "format": ".1f", "labelPadding": 8, "titlePadding": 12, "title": "Formation energy Eꜰ [eV/site]"}},
  "stroke": {"field": "s", "type": "nominal", "scale": {"domain": ["M", "C", "W", "K"], "range": ["#1f77b4", "#d62728", "#ff7f0e", "#000000"]}, "legend": null}
 }},
{"data": {"name": "pt"}, "transform": [{"filter": "datum.p == 'c'"}], "mark": {"type": "point", "filled": true, "size": 160, "opacity": 0.9, "stroke": "#222", "strokeWidth": 0.7, "clip": true},
 "encoding": {
  "x": {"field": "x", "type": "quantitative", "axis": null},
  "y": {"field": "y", "type": "quantitative", "axis": null},
  "fill": {"field": "t", "type": "nominal", "sort": null, "scale": {"domain": ["M", "C"], "range": ["#1f77b4", "#d62728"]}, "legend": {"orient": "top-left", "labelExpr": "datum.label == 'M' ? 'prototype MoS₂' : 'prototype CdI₂'"}},
  "shape": {"field": "t", "type": "nominal", "sort": null, "scale": {"domain": ["M", "C"], "range": ["M-1,-1L1,-1L0,1Z", "square"]}, "legend": {"orient": "top-left", "labelExpr": "datum.label == 'M' ? 'prototype MoS₂' : 'prototype CdI₂'"}}
 }}
]
},
{
"width": 456, "height": 355,
"title": {"text": "d", "offset": 10, "dx": -30},
"resolve": {"axis": {"x": "independent", "y": "independent"}},
"layer": [
{"data": {"values": [{}]}, "mark": {"type": "rule", "color": "#777", "strokeWidth": 1, "strokeDash": [8, 3, 2, 3]},
 "encoding": {
  "x": {"datum": 0, "type": "quantitative", "scale": {"domain": [0, 1], "nice": false, "zero": false}, "axis": {"orient": "bottom", "values": [0.1, 0.3, 0.5, 0.7, 0.9], "labels": false, "tickSize": 4, "domain": false, "title": null}},
  "x2": {"datum": 1},
  "y": {"datum": 0, "type": "quantitative", "scale": {"domain": [-0.0092, 0.1438], "nice": false, "zero": false}, "axis": {"orient": "left", "values": [0.01, 0.03, 0.05, 0.07, 0.09, 0.11, 0.13], "labels": false, "tickSize": 4, "domain": false, "title": null}}
 }},
{"data": {"name": "ln"}, "transform": [{"filter": "datum.p == 'd'"}], "mark": {"type": "line", "strokeWidth": 3.2, "opacity": 0.7, "clip": true},
 "encoding": {
  "x": {"field": "x", "type": "quantitative", "scale": {"domain": [0, 1], "nice": false, "zero": false}, "axis": {"orient": "bottom", "values": [0, 0.2, 0.4, 0.6, 0.8, 1], "labelPadding": 6, "titlePadding": 10, "labelExpr": "datum.value < 0.01 ? 'WSe₂' : datum.value > 0.99 ? 'WTe₂' : format(datum.value, '.1f')", "title": "Concentration x W(Se₁₋ₓTeₓ)₂"}},
  "y": {"field": "y", "type": "quantitative", "scale": {"domain": [-0.0092, 0.1438], "nice": false, "zero": false}, "axis": {"orient": "left", "values": [0, 0.02, 0.04, 0.06, 0.08, 0.1, 0.12, 0.14], "format": ".2f", "labelPadding": 8, "titlePadding": 12, "title": "Formation energy Eꜰ [eV/site]"}},
  "stroke": {"field": "s", "type": "nominal", "scale": {"domain": ["M", "C", "W", "K"], "range": ["#1f77b4", "#d62728", "#ff7f0e", "#000000"]}, "legend": null}
 }},
{"data": {"name": "pt"}, "transform": [{"filter": "datum.p == 'd'"}], "mark": {"type": "point", "filled": true, "size": 160, "opacity": 0.85, "stroke": "#222", "strokeWidth": 0.7, "clip": true},
 "encoding": {
  "x": {"field": "x", "type": "quantitative", "axis": null},
  "y": {"field": "y", "type": "quantitative", "axis": null},
  "fill": {"field": "t", "type": "nominal", "sort": null, "scale": {"domain": ["M", "W"], "range": ["#1f77b4", "#ff7f0e"]}, "legend": {"orient": "top-right", "offset": 12, "labelExpr": "datum.label == 'M' ? 'prototype  MoS₂' : 'prototype  WTe₂'"}},
  "shape": {"field": "t", "type": "nominal", "sort": null, "scale": {"domain": ["M", "W"], "range": ["M-1,-1L1,-1L0,1Z", "M0,-0.5L0.5,-1L1,-0.5L0.5,0L1,0.5L0.5,1L0,0.5L-0.5,1L-1,0.5L-0.5,0L-1,-0.5L-0.5,-1Z"]}, "legend": {"orient": "top-right", "offset": 12, "labelExpr": "datum.label == 'M' ? 'prototype  MoS₂' : 'prototype  WTe₂'"}}
 }}
]
}
]
}
]
}
